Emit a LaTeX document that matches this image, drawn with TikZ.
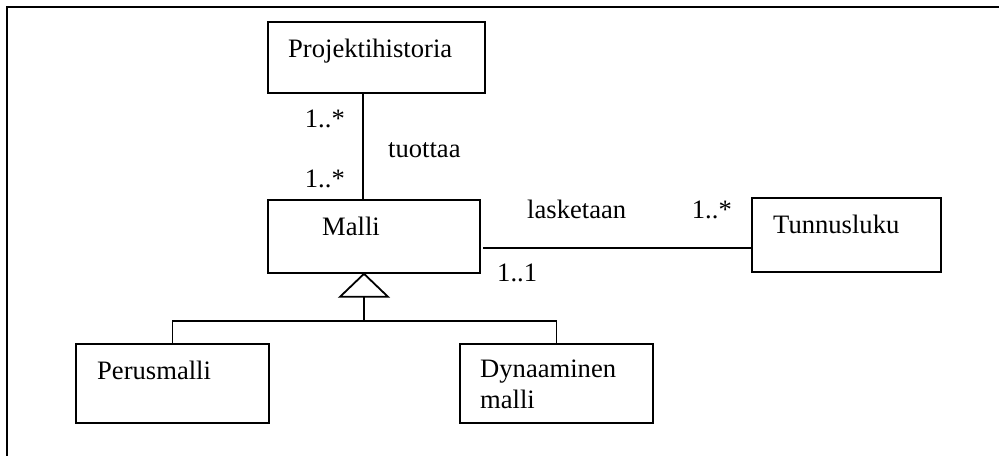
\documentclass[tikz,border=0pt]{standalone}
\usepackage{fontspec}
\setmainfont{Liberation Serif}
\usetikzlibrary{positioning,calc}

\begin{document}
\begin{tikzpicture}[
    x=1pt, y=-1pt,
    every node/.style={font=\fontsize{26.6}{31}\selectfont, inner sep=0pt},
    classbox/.style={draw, line width=1.8pt, anchor=north west},
    classname/.style={anchor=base west, align=left},
    multlabel/.style={anchor=base west},
]
\useasboundingbox (0,0) rectangle (999,456);

% Frame
\draw[line width=2.6pt] (999,7) -- (7,7) -- (7,456);

% Classes
\node[classbox, minimum width=217pt, minimum height=71pt] (hist) at (267,21) {};
\node[classname] (histname) at (288,57) {Projektihistoria};

\node[classbox, minimum width=212pt, minimum height=73pt] (malli) at (267,199) {};
\node[classname] (malliname) at (322,235) {Malli};

\node[classbox, minimum width=189pt, minimum height=74pt] (tunnus) at (751,197) {};
\node[classname] (tunnusname) at (773,233) {Tunnusluku};

\node[classbox, minimum width=193pt, minimum height=79pt] (perus) at (75,343) {};
\node[classname] (perusname) at (97,379) {Perusmalli};

\node[classbox, minimum width=193pt, minimum height=79pt] (dyn) at (459,343) {};
\node[classname, anchor=north west] (dynname) at (480,360) {Dynaaminen\\malli};

% Association: tuottaa
\draw[line width=1.8pt] ([xshift=96pt]hist.south west) -- ([xshift=96pt]malli.north west);
\node[multlabel, anchor=base east] (histmult) at (345,127) {1..*};
\node[multlabel, anchor=base east] (mallimult) at (345,187) {1..*};
\node[multlabel] (tuottaa) at (388,157) {tuottaa};

% Association: lasketaan
\coordinate (laskstart) at (483,248);
\draw[line width=1.8pt] (laskstart) -- (laskstart -| tunnus.west);
\node[multlabel] (lasketaan) at (527,218) {lasketaan};
\node[multlabel, anchor=base east] (tunnusmult) at (732,218) {1..*};
\node[multlabel] (mallione) at (497,281) {1..1};

% Generalization
\coordinate (genapex) at ([xshift=97pt]malli.south west);
\draw[line width=1.8pt, line join=miter] (genapex) -- ++(-24,23) -- ++(48,0) -- cycle;
\coordinate (genbase) at ([yshift=-23pt]genapex);
\coordinate (genjoin) at ([yshift=-24pt]genbase);
\draw[line width=1.8pt] (genbase) -- (genjoin);
\draw[line width=1.8pt] (perus.north) |- (genjoin) -| (dyn.north);

\end{tikzpicture}
\end{document}
